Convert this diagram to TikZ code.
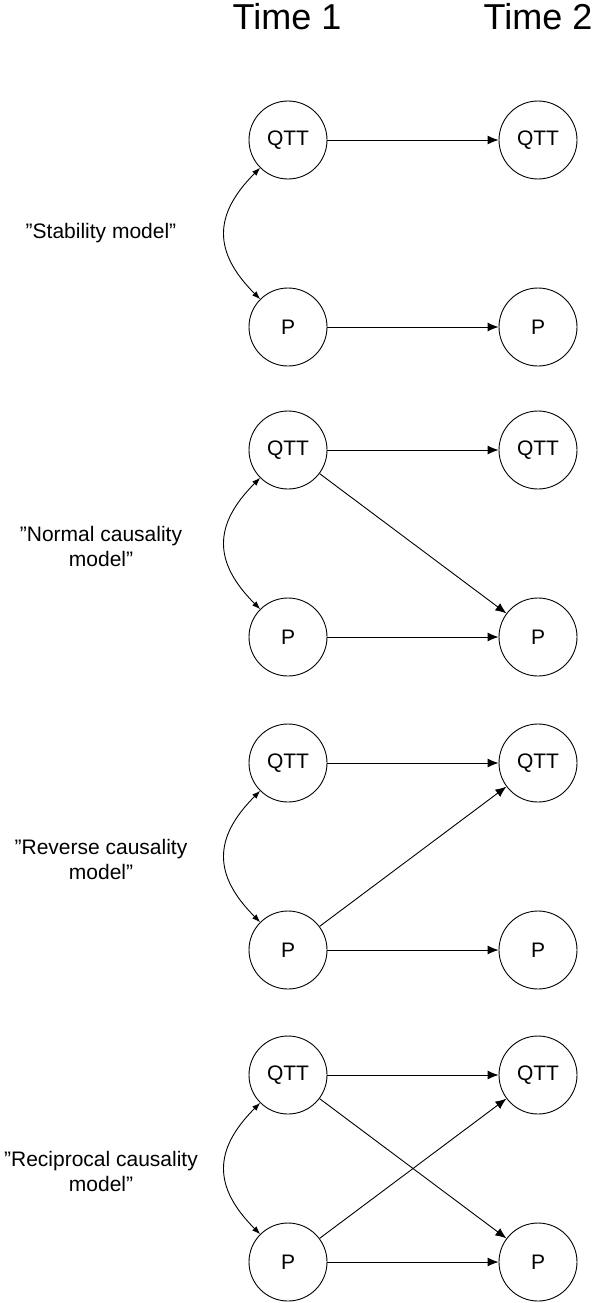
\documentclass[tikz,border=0pt]{standalone}
\usepackage{fontspec}
\setmainfont{Liberation Sans}
\usetikzlibrary{arrows.meta}
\begin{document}
\begin{tikzpicture}[x=1pt, y=-1pt,
        var/.style = {circle, draw, line width=0.9pt, minimum size=78pt, inner sep=0pt, font=\fontsize{21}{25}\selectfont},
        path/.style = {line width=0.9pt, -{Latex[length=11pt, width=9pt]}},
        cov/.style = {line width=0.9pt, {Latex[length=8pt, width=6pt]}-{Latex[length=8pt, width=6pt]}, out=225, in=135, looseness=1.3},
        model/.style = {align=center, font=\fontsize{21}{25}\selectfont}]
        \useasboundingbox (0,0) rectangle (596,1303);

        \node (time1) at (287, 30) [anchor = base, font=\fontsize{36}{43}\selectfont] {Time 1};
        \node (time2) at (538, 30) [anchor = base, font=\fontsize{36}{43}\selectfont] {Time 2};

        % stability model
        \node [var] (qa1) at (288, 140) {QTT};
        \node [var] (qa2) at (538, 140) {QTT};
        \node [var] (pa1) at (288, 327) {P};
        \node [var] (pa2) at (538, 327) {P};
        \node [model] (stab) at (101, 233) {”Stability model”};
        \draw [path] (qa1) -- (qa2);
        \draw [path] (pa1) -- (pa2);
        \draw [cov] (qa1.225) to (pa1.135);

        % normal causality model
        \node [var] (qb1) at (288, 450) {QTT};
        \node [var] (qb2) at (538, 450) {QTT};
        \node [var] (pb1) at (288, 637) {P};
        \node [var] (pb2) at (538, 637) {P};
        \node [model] (norm) at (101, 546) {”Normal causality\\model”};
        \draw [path] (qb1) -- (qb2);
        \draw [path] (pb1) -- (pb2);
        \draw [path] (qb1) -- (pb2);
        \draw [cov] (qb1.225) to (pb1.135);

        % reverse causality model
        \node [var] (qc1) at (288, 763) {QTT};
        \node [var] (qc2) at (538, 763) {QTT};
        \node [var] (pc1) at (288, 950) {P};
        \node [var] (pc2) at (538, 950) {P};
        \node [model] (rev) at (101, 859) {”Reverse causality\\model”};
        \draw [path] (qc1) -- (qc2);
        \draw [path] (pc1) -- (pc2);
        \draw [path] (pc1) -- (qc2);
        \draw [cov] (qc1.225) to (pc1.135);

        % reciprocal causality model
        \node [var] (qd1) at (288, 1075) {QTT};
        \node [var] (qd2) at (538, 1075) {QTT};
        \node [var] (pd1) at (288, 1262) {P};
        \node [var] (pd2) at (538, 1262) {P};
        \node [model] (reci) at (101, 1171) {”Reciprocal causality\\model”};
        \draw [path] (qd1) -- (qd2);
        \draw [path] (pd1) -- (pd2);
        \draw [path] (qd1) -- (pd2);
        \draw [path] (pd1) -- (qd2);
        \draw [cov] (qd1.225) to (pd1.135);
    \end{tikzpicture}
\end{document}
